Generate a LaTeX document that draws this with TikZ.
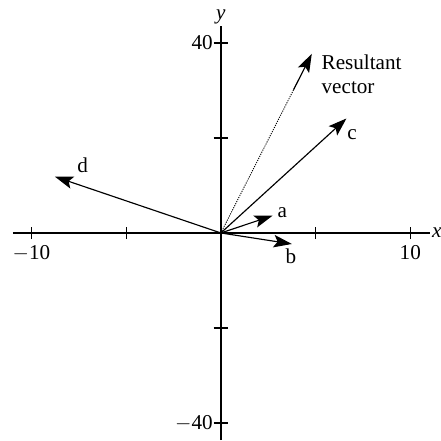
\documentclass[tikz,border=0pt]{standalone}
\usepackage{fontspec}
\setmainfont{Liberation Serif}
\usetikzlibrary{arrows.meta, positioning, calc}

\begin{document}
\begin{tikzpicture}[
    x=9.85pt, y=2.47pt,
    font=\fontsize{11}{12.5}\selectfont,
    axis/.style={draw=black, line width=0.75pt},
    tick/.style={draw=black, line width=0.6pt},
    vec/.style={draw=black, line width=0.6pt, -{Stealth[length=9.5pt, width=6.5pt, inset=2pt]}},
    resvec/.style={draw=black, line width=0.45pt, dash pattern=on 0.6pt off 0.6pt},
    lbl/.style={inner sep=1pt}
]
    \useasboundingbox (-11.66,-43.8) rectangle (11.61,49.05);

    % Axes
    \coordinate (O) at (0,0);
    \coordinate (xmin) at (-10.98,0);
    \coordinate (xmax) at (11.03,0);
    \coordinate (ymin) at (0,-43.6);
    \coordinate (ymax) at (0,43.6);
    \draw[axis] (xmin) -- (xmax);
    \draw[axis] (ymin) -- (ymax);
    \node[lbl, right=0pt of xmax] (xlab) {\textit{x}};
    \node[lbl, above=0pt of ymax] (ylab) {\textit{y}};

    % Ticks
    \foreach \t in {-10,-5,5,10} {
        \draw[tick] (\t,0) ++(0,-3.2pt) -- ++(0,6.4pt);
    }
    \foreach \t in {-40,-20,20,40} {
        \draw[tick] (0,\t) ++(-3.8pt,0) -- ++(7.6pt,0);
    }
    \node[lbl, below=5.5pt of {(-10,0)}] (xm10) {$-$10};
    \node[lbl, below=5.5pt of {(10,0)}] (xp10) {10};
    \node[lbl, left=3pt of {(0,40)}] (yp40) {40};
    \node[lbl, left=3pt of {(0,-40)}] (ym40) {$-$40};

    % Vectors
    \coordinate (atip) at (2.73,3.64);
    \coordinate (btip) at (3.75,-2.32);
    \coordinate (ctip) at (6.63,24.1);
    \coordinate (dtip) at (-8.76,11.85);
    \coordinate (rtip) at (4.80,37.7);
    \draw[vec] (O) -- (atip);
    \draw[vec] (O) -- (btip);
    \draw[vec] (O) -- (ctip);
    \draw[vec] (O) -- (dtip);
    \draw[resvec] (O) -- ($(O)!0.9!(rtip)$);
    \draw[vec] ($(O)!0.8!(rtip)$) -- (rtip);

    % Labels
    \node[lbl] (alab) at (3.25,4.3) {a};
    \node[lbl] (blab) at (3.7,-5.0) {b};
    \node[lbl] (clab) at (6.93,20.8) {c};
    \node[lbl] (dlab) at (-7.3,14.3) {d};
    \node[lbl, anchor=west, align=left] (rlab) at (5.2,33.5) {Resultant\\vector};
\end{tikzpicture}
\end{document}
